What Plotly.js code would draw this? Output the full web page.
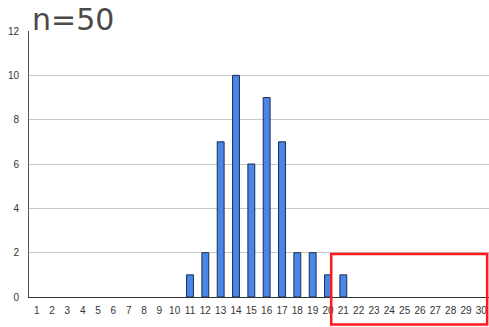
<!DOCTYPE html>
<html><head><meta charset="utf-8">
<script src="https://cdn.plot.ly/plotly-3.0.1.min.js"></script>
<style>html,body{margin:0;padding:0;background:#fff}#c{width:489px;height:327px}</style>
</head><body><div id="c"></div>
<script>
const categories = Array.from({length:30},(_,i)=>String(i+1));
const counts = [0,0,0,0,0,0,0,0,0,0,1,2,7,10,6,9,7,2,2,1,1,0,0,0,0,0,0,0,0,0];
const yTicks = [0,2,4,6,8,10,12];
const titleText = "n=50";

Plotly.newPlot('c',[{
  type:'bar', x:categories, y:counts,
  marker:{color:'#4a86e8', line:{color:'#1c2d4f', width:counts.map(v=>v>0?1:0)}},
  width:0.45, hoverinfo:'skip'
}],{
  width:489, height:327,
  margin:{l:29,r:0,t:31,b:30},
  paper_bgcolor:'#fff', plot_bgcolor:'#fff',
  showlegend:false,
  title:{text:titleText, x:0, xref:'paper', xanchor:'left', y:1, yref:'paper', yanchor:'bottom', pad:{l:3,b:1},
    font:{family:'DejaVu Sans, sans-serif', size:30, color:'#4a4a4a'}},
  xaxis:{type:'category', tickfont:{family:'Arial, Liberation Sans', size:10, color:'#333'},
    showline:true, linecolor:'#333', linewidth:1, ticks:'', showgrid:false, ticklen:0, ticklabelstandoff:4, automargin:false},
  yaxis:{range:[0,12], tickvals:yTicks, tickfont:{family:'Arial, Liberation Sans', size:10, color:'#333'},
    showline:true, linecolor:'#555', linewidth:1, gridcolor:'#c8c8c8', gridwidth:1, zeroline:false, ticks:'', ticklabelstandoff:7, automargin:false},
  shapes:[{type:'rect', xref:'paper', yref:'paper', x0:0.657, x1:0.996, y0:-0.103, y1:0.162,
    line:{color:'#ff1a1a', width:2.5}, fillcolor:'rgba(0,0,0,0)'}]
},{staticPlot:true, displayModeBar:false});
</script></body></html>
